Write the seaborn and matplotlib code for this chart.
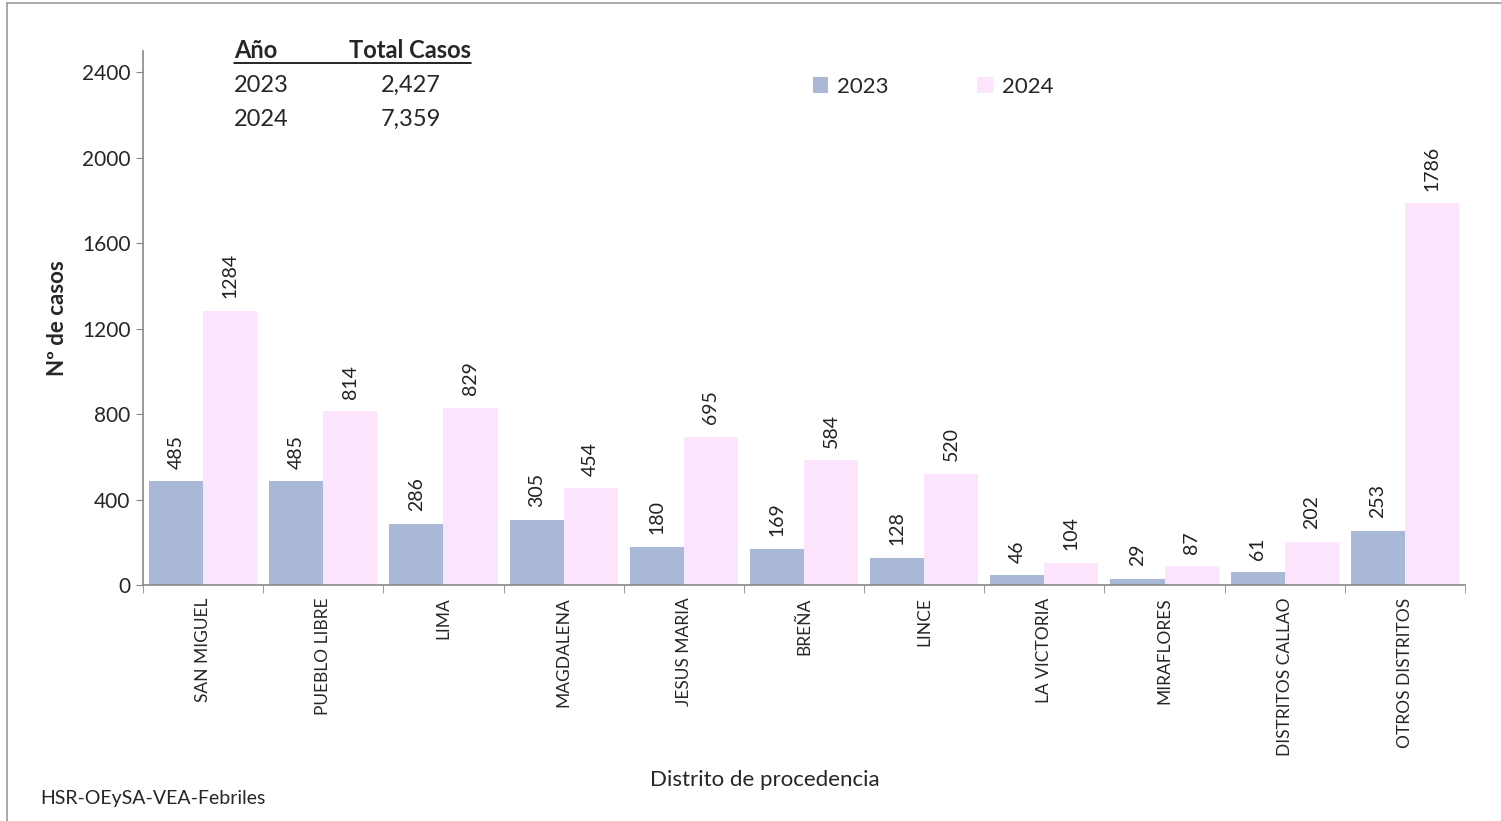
import pandas as pd
import matplotlib.pyplot as plt
import seaborn as sns
from matplotlib.patches import Rectangle, Patch
from matplotlib.lines import Line2D

# datos por distrito
distritos = ['SAN MIGUEL', 'PUEBLO LIBRE', 'LIMA', 'MAGDALENA', 'JESUS MARIA', 'BREÑA',
             'LINCE', 'LA VICTORIA', 'MIRAFLORES', 'DISTRITOS CALLAO', 'OTROS DISTRITOS']
casos_2023 = [485, 485, 286, 305, 180, 169, 128, 46, 29, 61, 253]
casos_2024 = [1284, 814, 829, 454, 695, 584, 520, 104, 87, 202, 1786]
anios = ['2023', '2024']
totales = ['2,427', '7,359']
yticks = [0, 400, 800, 1200, 1600, 2000, 2400]

df = pd.DataFrame({
    'Distrito': distritos * 2,
    'Casos': casos_2023 + casos_2024,
    'Año': ['2023'] * len(distritos) + ['2024'] * len(distritos),
})

sns.set_style('white')
plt.rcParams['font.family'] = ['Lato', 'DejaVu Sans']

colores = {'2023': '#A9B8D6', '2024': '#FCE4FC'}

fig = plt.figure(figsize=(15.01, 8.21), dpi=100)
ax = fig.add_axes([0.0953, 0.2874, 0.8807, 0.6506])

sns.barplot(data=df, x='Distrito', y='Casos', hue='Año', palette=colores,
            width=0.9, saturation=1, linewidth=0, ax=ax, legend=False)

for cont in ax.containers:
    ax.bar_label(cont, rotation=90, padding=9, fontsize=14, color='#222222')

ax.set_ylim(0, 2500)
ax.set_xlim(-0.5, len(distritos) - 0.5)
ax.set_yticks(yticks)
ax.set_yticklabels([str(v) for v in yticks], fontsize=15)
ax.set_xticks(range(len(distritos)))
ax.set_xticklabels(distritos, rotation=90, fontsize=12.5, va='top')
ax.tick_params(axis='x', which='major', length=0, pad=9)
ax.set_xticks([i - 0.5 for i in range(len(distritos) + 1)], minor=True)
ax.tick_params(axis='x', which='minor', length=6, color='#888888', direction='out', bottom=True)
ax.tick_params(axis='y', length=5, color='#888888', direction='out', left=True, pad=4)

for s in ['top', 'right']:
    ax.spines[s].set_visible(False)
for s in ['left', 'bottom']:
    ax.spines[s].set_color('#888888')
    ax.spines[s].set_linewidth(1.2)

ax.set_ylabel('Nº de casos', fontsize=16, fontweight='bold', labelpad=10)
ax.set_xlabel('Distrito de procedencia', fontsize=16, labelpad=0)
ax.xaxis.set_label_coords(0.47, -0.347)

# leyenda
handles = [Patch(facecolor=colores[a], edgecolor='none', label=a) for a in anios]
fig.legend(handles=handles, loc='center left', bbox_to_anchor=(0.528, 0.894), ncol=2,
           frameon=False, fontsize=16, handlelength=0.7, handleheight=0.7,
           handletextpad=0.4, columnspacing=4.0)

# tabla de totales
fig.text(234 / 1501, 1 - 50 / 821, 'Año', fontsize=17, fontweight='bold', va='center')
fig.text(471 / 1501, 1 - 50 / 821, 'Total Casos', fontsize=17, fontweight='bold', va='center', ha='right')
fig.add_artist(Line2D([234 / 1501, 471 / 1501], [1 - 63 / 821, 1 - 63 / 821], color='black', lw=1.2))
for i, (a, t) in enumerate(zip(anios, totales)):
    y = 1 - (85 + 34 * i) / 821
    fig.text(234 / 1501, y, a, fontsize=17, va='center')
    fig.text(441 / 1501, y, t, fontsize=17, va='center', ha='right')

fig.text(40 / 1501, 1 - 798 / 821, 'HSR-OEySA-VEA-Febriles', fontsize=14, va='center')

fig.add_artist(Rectangle((7 / 1501, -0.05), 1.1, 1 - 3 / 821 + 0.05, transform=fig.transFigure,
                         fill=False, edgecolor='#999999', lw=1.2))

fig.savefig('out.png', dpi=100)
